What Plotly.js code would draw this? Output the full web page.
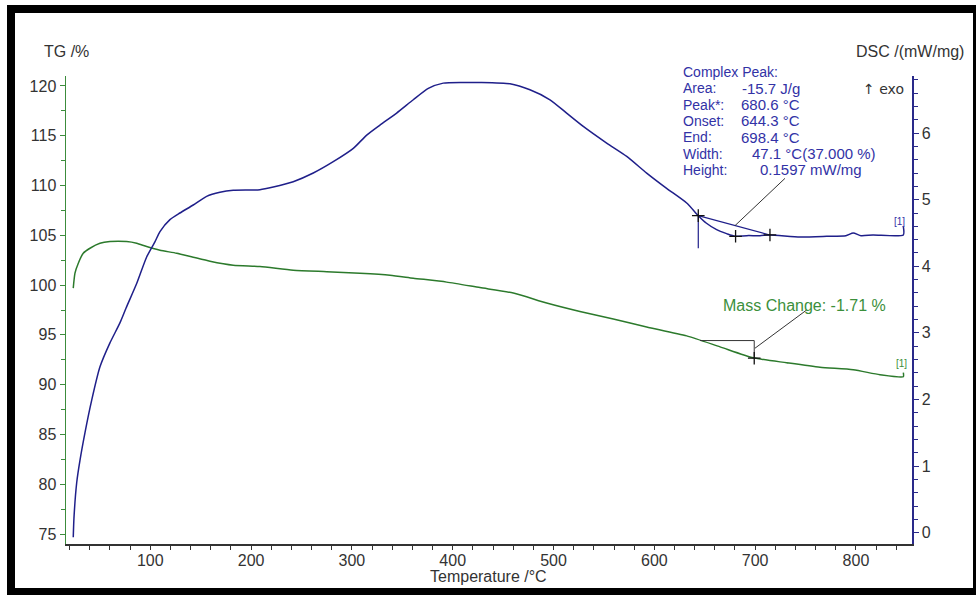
<!DOCTYPE html>
<html>
<head>
<meta charset="utf-8">
<script src="https://cdn.plot.ly/plotly-3.0.1.min.js"></script>
<style>
  html, body { margin: 0; padding: 0; background: #fff; }
  #wrap { position: relative; width: 976px; height: 595px; overflow: hidden; }
  #chart { position: absolute; left: 0; top: 0; width: 976px; height: 595px; }
  #frame { position: absolute; left: 7px; top: 5px; right: 0; bottom: 0;
           border-style: solid; border-color: #000;
           border-width: 8px 3px 7px 8px; pointer-events: none; }
</style>
</head>
<body>
<div id="wrap">
  <div id="chart"></div>
  <div id="frame"></div>
</div>
<script>
// ---- DSC curve (right axis, mW/mg) ----
const dscTemp = [23.6, 24.3, 27.0, 30.3, 35.2, 41.9, 50.1, 60.0, 69.9, 75.9, 86.5, 96.4, 104.7, 109.6,
  119.5, 129.4, 142.6, 155.9, 169.1, 182.3, 208.8, 222.0, 241.8, 261.7, 281.5, 301.4, 314.7, 327.8,
  344.4, 360.9, 375.8, 390.6, 410.5, 427.0, 456.8, 476.6, 496.5, 513.0, 529.5, 552.7, 572.6, 592.4,
  612.2, 632.1, 643.6, 651.4, 661.8, 671.7, 680.0, 691.6, 704.8, 714.7, 744.5, 771.0, 790.0, 797.3,
  805.0, 816.9, 847.0, 847.0];
const dscValues = [-0.07, 0.22, 0.75, 1.09, 1.50, 1.99, 2.49, 2.85, 3.15, 3.37, 3.74, 4.14, 4.37, 4.52,
  4.70, 4.80, 4.92, 5.05, 5.11, 5.14, 5.15, 5.19, 5.27, 5.40, 5.57, 5.77, 5.97, 6.12,
  6.30, 6.50, 6.67, 6.75, 6.76, 6.76, 6.74, 6.65, 6.50, 6.30, 6.10, 5.85, 5.65, 5.40,
  5.17, 4.95, 4.76, 4.65, 4.55, 4.49, 4.45, 4.46, 4.46, 4.47, 4.44, 4.45, 4.46, 4.50,
  4.46, 4.47, 4.47, 4.60];

// ---- TG curve (left axis, %) ----
const tgTemp = [23.6, 25.3, 28.6, 33.5, 40.2, 50.1, 60.0, 76.6, 86.5, 96.4, 109.6, 126.2, 142.6, 159.2,
  182.3, 208.8, 241.8, 275.0, 308.0, 337.8, 360.9, 394.0, 427.0, 460.1, 493.2, 526.2, 559.3, 592.4,
  632.1, 665.2, 698.2, 731.3, 764.3, 797.3, 823.8, 847.0, 847.0];
const tgValues = [99.69, 101.2, 102.2, 103.2, 103.7, 104.2, 104.37, 104.37, 104.2, 103.87, 103.5, 103.2, 102.8, 102.4,
  102.0, 101.86, 101.5, 101.35, 101.2, 101.0, 100.7, 100.3, 99.75, 99.2, 98.2, 97.35, 96.6, 95.8,
  94.9, 93.8, 92.7, 92.2, 91.75, 91.5, 91.0, 90.8, 91.2];

// ---- DSC peak evaluation marks ----
const dscBaseT = [643.6, 714.7];
const dscBaseV = [4.76, 4.47];
const dscOnsetT = [643.6, 643.6];
const dscOnsetV = [4.76, 4.27];
const dscCrossT = [643.6, 680.6, 714.7];
const dscCrossV = [4.76, 4.45, 4.47];
const dscLeaderT = [680.0, 729.6];
const dscLeaderV = [4.61, 5.32];

// ---- TG mass change marks ----
const tgStepT = [645.3, 699.1, 699.1];
const tgStepV = [94.43, 94.43, 92.66];
const tgCrossT = [699.1];
const tgCrossV = [92.66];
const tgLeaderT = [699.8, 751.1];
const tgLeaderV = [93.66, 97.5];

// ---- texts ----
const peakLabels = ["Complex Peak:", "Area:", "Peak*:", "Onset:", "End:", "Width:", "Height:"];
const peakValues = ["", "-15.7 J/g", "680.6 °C", "644.3 °C", "698.4 °C", "47.1 °C(37.000 %)", "0.1597 mW/mg"];
const massText = "Mass Change: -1.71 %";

const BLUE = "#1f1f8a";
const BLUE_TXT = "#3232a6";
const GREEN = "#2c7a2c";
const GREEN_TXT = "#3b8f3b";
const FONT = "Liberation Sans, Arial, sans-serif";

const traces = [
  {x: tgTemp, y: tgValues, type: "scatter", mode: "lines", yaxis: "y",
   line: {color: GREEN, width: 1.5, shape: "spline", smoothing: 0.6}, hoverinfo: "skip"},
  {x: dscTemp, y: dscValues, type: "scatter", mode: "lines", yaxis: "y2",
   line: {color: BLUE, width: 1.5, shape: "spline", smoothing: 0.6}, hoverinfo: "skip"},
  {x: dscBaseT, y: dscBaseV, type: "scatter", mode: "lines", yaxis: "y2",
   line: {color: BLUE, width: 1.2}},
  {x: dscOnsetT, y: dscOnsetV, type: "scatter", mode: "lines", yaxis: "y2",
   line: {color: BLUE, width: 1.2}},
  {x: dscLeaderT, y: dscLeaderV, type: "scatter", mode: "lines", yaxis: "y2",
   line: {color: "#333", width: 1}},
  {x: dscCrossT, y: dscCrossV, type: "scatter", mode: "markers", yaxis: "y2",
   marker: {symbol: "cross-thin", size: 9, line: {color: "#111", width: 1.3}}},
  {x: tgStepT, y: tgStepV, type: "scatter", mode: "lines", yaxis: "y",
   line: {color: "#333", width: 1}},
  {x: tgLeaderT, y: tgLeaderV, type: "scatter", mode: "lines", yaxis: "y",
   line: {color: "#333", width: 1}},
  {x: tgCrossT, y: tgCrossV, type: "scatter", mode: "markers", yaxis: "y",
   marker: {symbol: "cross-thin", size: 9, line: {color: "#111", width: 1.3}}}
];

// pixel -> paper helpers (plot area 66..912 x 76..544)
const L = 66, R = 912, T = 76, B = 544;
const px = v => (v - L) / (R - L);
const py = v => (B - v) / (B - T);

const annotations = [
  {text: "TG /%", x: px(66), y: py(52), xanchor: "center", yanchor: "middle",
   font: {family: FONT, size: 16, color: "#333"}},
  {text: "DSC /(mW/mg)", x: px(966), y: py(52), xanchor: "right", yanchor: "middle",
   font: {family: FONT, size: 16, color: "#333"}},
  {text: "Temperature /°C", x: px(488), y: py(576), xanchor: "center", yanchor: "middle",
   font: {family: FONT, size: 16, color: "#333"}},
  {text: "↑ exo", x: px(861), y: py(89), xanchor: "left", yanchor: "middle",
   font: {family: "DejaVu Sans, sans-serif", size: 14, color: "#333"}},
  {text: massText, x: px(721), y: py(305), xanchor: "left", yanchor: "middle",
   font: {family: FONT, size: 16, color: GREEN_TXT}},
  {text: "[1]", x: px(899), y: py(221), xanchor: "center", yanchor: "middle",
   font: {family: FONT, size: 10, color: BLUE_TXT}},
  {text: "[1]", x: px(901), y: py(363), xanchor: "center", yanchor: "middle",
   font: {family: FONT, size: 10, color: GREEN_TXT}}
];
const valueX = [0, 740, 739, 739, 739, 750, 758];
peakLabels.forEach((lab, i) => {
  const yy = 72 + i * 16.3;
  annotations.push({text: lab, x: px(681), y: py(yy), xanchor: "left", yanchor: "middle",
    font: {family: FONT, size: 14, color: BLUE_TXT}});
  if (peakValues[i]) {
    annotations.push({text: peakValues[i], x: px(valueX[i]), y: py(yy), xanchor: "left", yanchor: "middle",
      font: {family: FONT, size: 15, color: BLUE_TXT}});
  }
});
annotations.forEach(a => { a.xref = "paper"; a.yref = "paper"; a.showarrow = false; });

const layout = {
  width: 976, height: 595,
  margin: {l: L, r: 976 - R, t: T, b: 595 - B, pad: 0},
  paper_bgcolor: "#fff", plot_bgcolor: "#fff",
  showlegend: false,
  xaxis: {
    range: [16.4, 855.6], tick0: 0, dtick: 100,
    showgrid: false, zeroline: false, showline: true,
    linecolor: "#333", linewidth: 1.5,
    ticks: "outside", ticklen: 4, tickcolor: "#333", tickwidth: 1,
    ticklabelstandoff: -3,
    tickfont: {family: FONT, size: 16, color: "#333"},
    minor: {dtick: 20, tick0: 0, ticks: "outside", ticklen: 4, tickcolor: "#333", showgrid: false}
  },
  yaxis: {
    range: [74, 121], tick0: 0, dtick: 5,
    showgrid: false, zeroline: false, showline: true,
    linecolor: "#3c8c3c", linewidth: 1.5,
    ticks: "outside", ticklen: 5, tickcolor: "#3c8c3c", tickwidth: 1,
    tickfont: {family: FONT, size: 16, color: "#333"},
    minor: {dtick: 2.5, tick0: 0, ticks: "outside", ticklen: 4, tickcolor: "#3c8c3c", showgrid: false}
  },
  yaxis2: {
    overlaying: "y", side: "right", anchor: "x",
    range: [-0.17, 6.857], tick0: 0, dtick: 1,
    showgrid: false, zeroline: false, showline: true,
    linecolor: "#2a2a8a", linewidth: 1.5,
    ticks: "outside", ticklen: 5, tickcolor: "#2a2a8a", tickwidth: 1,
    tickfont: {family: FONT, size: 16, color: "#333"},
    minor: {dtick: 0.2, tick0: 0, ticks: "outside", ticklen: 4, tickcolor: "#2a2a8a", showgrid: false}
  },
  annotations: annotations
};

Plotly.newPlot("chart", traces, layout, {staticPlot: true, displayModeBar: false});
</script>
</body>
</html>
